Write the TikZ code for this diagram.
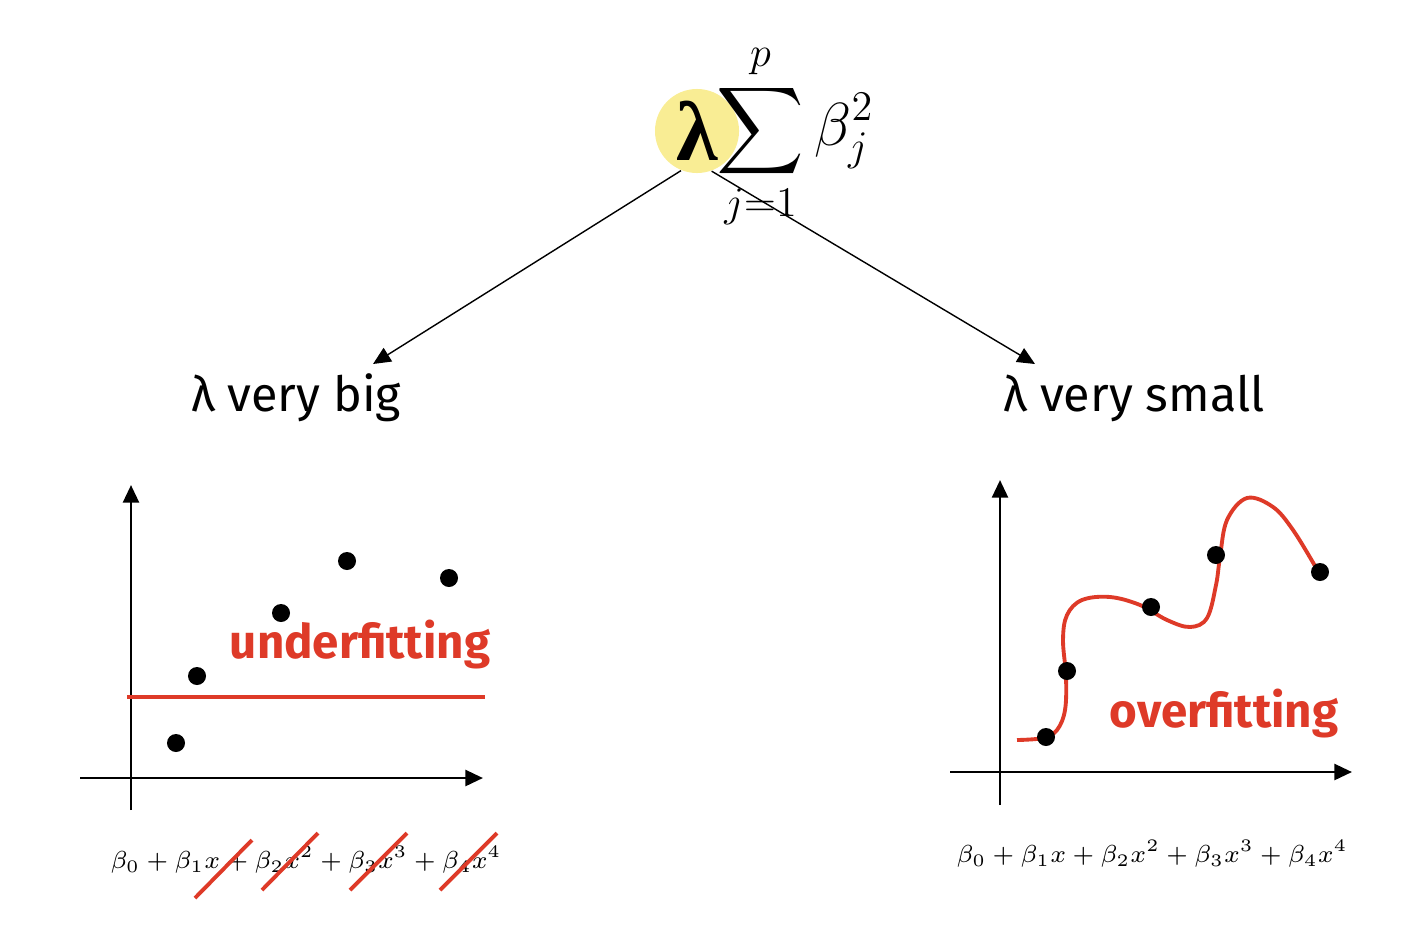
\documentclass[tikz,border=0pt]{standalone}
\usepackage{fontspec}
\usepackage{amsmath}
\setmainfont{Fira Sans}
\newfontfamily\lamfont{Liberation Serif}
\definecolor{fitred}{RGB}{222,58,40}
\definecolor{lamyellow}{RGB}{249,237,148}
\usetikzlibrary{arrows.meta}

\begin{document}
\begin{tikzpicture}[x=0.01cm, y=-0.01cm,
  label/.style={font=\fontsize{13.8}{16}\selectfont, text=black},
  fitlabel/.style={font=\fontsize{13.5}{16}\selectfont\bfseries, text=fitred},
  arw/.style={-{Triangle[length=5pt,width=4.5pt]}, thin, black},
  axis/.style={-{Triangle[length=5pt,width=4.5pt]}, thick, black},
  dot/.style={circle, fill=black, inner sep=0pt, minimum size=0.18cm},
  fit/.style={fitred, line width=1.1pt},
  strike/.style={fitred, line width=1.1pt},
  poly/.style={font=\fontsize{7.3}{9}\selectfont},
]
\useasboundingbox (0,0) rectangle (1404,930);

% Penalty term
\node[circle, fill=lamyellow, minimum size=0.84cm, inner sep=0pt] (lam) at (697,131)
  {\fontsize{24}{26}\selectfont\lamfont\bfseries λ};
\node[anchor=west, inner sep=0pt] (pen) at (716,137)
  {\fontsize{17}{20}\selectfont$\displaystyle\sum_{j=1}^{p}\beta_j^2$};

% Labels
\node[label] (big) at (296,398) {λ very big};
\node[label] (small) at (1134,398) {λ very small};
\coordinate (bigtip) at (373,364);
\coordinate (smalltip) at (1035,364);

% Arrows
\draw[arw] (lam.248) -- (bigtip);
\draw[arw] (lam.290) -- (smalltip);

% Left plot
\draw[axis] (131,810) -- (131,485);
\draw[axis] (80,778) -- (483,778);
\draw[fit] (127,697) -- (485,697);
\node[dot] (l1) at (176,743) {};
\node[dot] (l2) at (197,676) {};
\node[dot] (l3) at (281,613) {};
\node[dot] (l4) at (347,561) {};
\node[dot] (l5) at (449,578) {};
\node[fitlabel] (under) at (360,645) {underfitting};

% Right plot
\draw[axis] (1000,805) -- (1000,480);
\draw[axis] (950,772) -- (1352,772);
\draw[fit] plot[smooth, tension=0.6] coordinates {
  (1017,740) (1043,738) (1057,730) (1065,710) (1066,677) (1063,640)
  (1067,615) (1082,600) (1110,597) (1140,605) (1167,620) (1190,627)
  (1207,618) (1216,585) (1220,557) (1227,520) (1247,498) (1273,507)
  (1293,530) (1315,566)};
\node[dot] (r1) at (1046,737) {};
\node[dot] (r2) at (1067,671) {};
\node[dot] (r3) at (1151,607) {};
\node[dot] (r4) at (1216,555) {};
\node[dot] (r5) at (1320,572) {};
\node[fitlabel] (over) at (1224,713) {overfitting};

% Polynomials
\node[poly] (polyl) at (306,860)
  {$\beta_0 + \beta_1x + \beta_2x^2 + \beta_3x^3 + \beta_4x^4$};
\node[poly] (polyr) at (1152,854)
  {$\beta_0 + \beta_1x + \beta_2x^2 + \beta_3x^3 + \beta_4x^4$};
\draw[strike] (195,898) -- (252,840);
\draw[strike] (262,890) -- (318,833);
\draw[strike] (350,890) -- (407,833);
\draw[strike] (440,890) -- (497,833);
\end{tikzpicture}
\end{document}
